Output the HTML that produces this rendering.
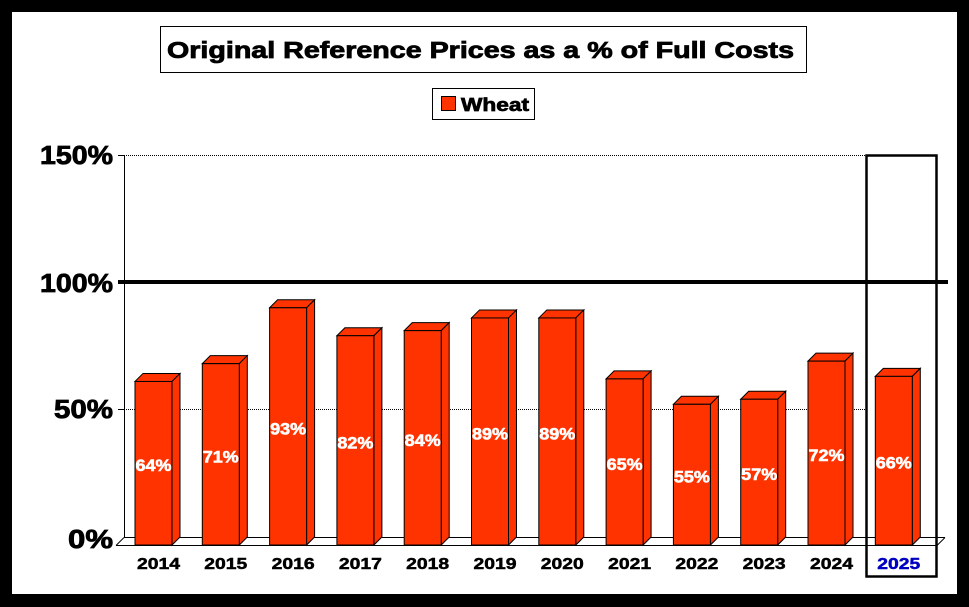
<!DOCTYPE html>
<html><head><meta charset="utf-8"><style>
html,body{margin:0;padding:0;background:#000;}
svg{display:block;font-family:"Liberation Sans",Arial,sans-serif;font-weight:bold;}
</style></head><body>
<svg id="s" width="969" height="607" viewBox="0 0 969 607" xmlns="http://www.w3.org/2000/svg">
<rect x="0" y="0" width="969" height="607" fill="#000"/>
<rect x="12" y="12" width="945" height="582" fill="#fff"/>
<rect x="160.5" y="26.5" width="646" height="46" fill="#fff" stroke="#000" stroke-width="1"/>
<text x="167" y="58" font-size="23" textLength="627" lengthAdjust="spacingAndGlyphs" stroke="#000" stroke-width="0.8">Original Reference Prices as a % of Full Costs</text>
<rect x="432.5" y="88.5" width="102" height="31" fill="#fff" stroke="#000" stroke-width="1"/>
<rect x="441.5" y="96.5" width="14" height="14" fill="#ff3300" stroke="#000" stroke-width="1"/>
<text x="461" y="111" font-size="18" textLength="68" lengthAdjust="spacingAndGlyphs" stroke="#000" stroke-width="0.7">Wheat</text>
<g stroke="#000" stroke-width="1" stroke-dasharray="1,1">
<line x1="124" y1="155.5" x2="866" y2="155.5"/>
<line x1="124" y1="409.5" x2="866" y2="409.5"/>
</g>
<line x1="124.5" y1="155" x2="124.5" y2="537" stroke="#000"/>
<line x1="118" y1="155.5" x2="124" y2="155.5" stroke="#000"/>
<line x1="118" y1="409.5" x2="124" y2="409.5" stroke="#000"/>
<g font-size="26" text-anchor="end" stroke="#000" stroke-width="0.8">
<text x="113" y="164" textLength="73" lengthAdjust="spacingAndGlyphs">150%</text>
<text x="113" y="292" textLength="73" lengthAdjust="spacingAndGlyphs">100%</text>
<text x="113" y="418" textLength="59" lengthAdjust="spacingAndGlyphs">50%</text>
<text x="113" y="548" textLength="45" lengthAdjust="spacingAndGlyphs">0%</text>
</g>
<g stroke="#000" stroke-width="1" fill="none">
<line x1="124" y1="537.5" x2="945" y2="537.5"/>
<line x1="116" y1="545.5" x2="937" y2="545.5"/>
<line x1="116" y1="545.5" x2="124" y2="537.5"/>
<line x1="937" y1="545.5" x2="945" y2="537.5"/>
</g>
<g id="bars"></g>
<line x1="118" y1="282" x2="948" y2="282" stroke="#000" stroke-width="4"/>
<rect x="866.5" y="155.5" width="70" height="421" fill="none" stroke="#000" stroke-width="2.5"/>
</svg>
<script>
var v=[64,71,93,82,84,89,89,65,55,57,72,66];
var g=document.getElementById('bars'),h='';
for(var i=0;i<12;i++){
 var x=135+i*67.3,w=37,d=8,ft=536-v[i]*2.54+8,fb=545;
 var c=(i==11?'#0000c0':'#000');
 h+='<line x1="'+(x+w/2+8)+'" y1="537.5" x2="'+(x+w/2+8)+'" y2="545" stroke="#000"/>';
 h+='<polygon points="'+x+','+ft+' '+(x+d)+','+(ft-d)+' '+(x+w+d)+','+(ft-d)+' '+(x+w)+','+ft+'" fill="#ff3300" stroke="#000" stroke-width="1"/>';
 h+='<polygon points="'+(x+w)+','+ft+' '+(x+w+d)+','+(ft-d)+' '+(x+w+d)+','+(fb-d)+' '+(x+w)+','+fb+'" fill="#ff3300" stroke="#000" stroke-width="1"/>';
 h+='<rect x="'+x+'" y="'+ft+'" width="'+w+'" height="'+(fb-ft)+'" fill="#ff3300" stroke="#000" stroke-width="1"/>';
 h+='<text x="'+(x+w/2)+'" y="'+((ft+fb)/2+8)+'" font-size="17" fill="#fff" stroke="#fff" stroke-width="0.6" text-anchor="middle" textLength="36" lengthAdjust="spacingAndGlyphs">'+v[i]+'%</text>';
 h+='<text x="'+(x+w/2+5)+'" y="569" font-size="16" fill="'+c+'" stroke="'+c+'" stroke-width="0.5" text-anchor="middle" textLength="43" lengthAdjust="spacingAndGlyphs">'+(2014+i)+'</text>';
}
g.innerHTML=h;
</script>
</body></html>
